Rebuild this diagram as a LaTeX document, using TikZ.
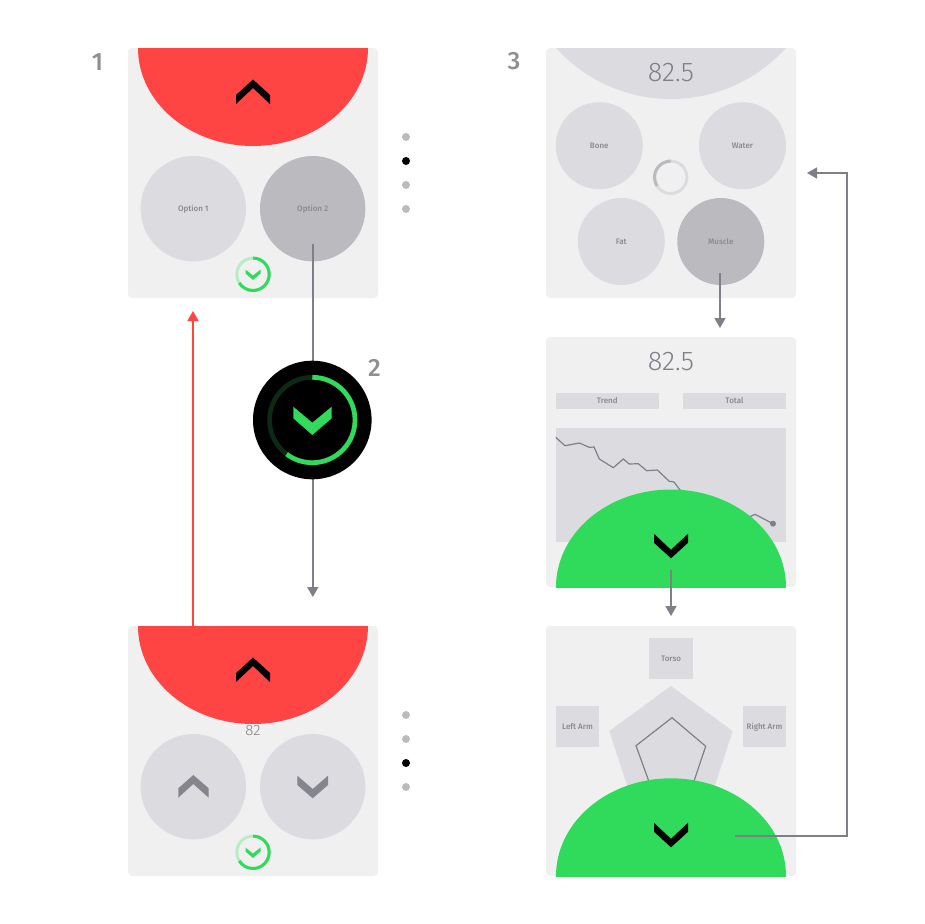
\documentclass[tikz,border=0pt]{standalone}
\usepackage{fontspec}
\setmainfont{Fira Sans}
\newfontfamily\digitfont{Fira Sans Light}
\newfontfamily\medfont{Fira Sans Medium}
\usetikzlibrary{arrows.meta}
\definecolor{panel}{HTML}{F0F0F1}
\definecolor{lite}{HTML}{DCDCE0}
\definecolor{dark}{HTML}{BBBBBF}
\definecolor{txt}{HTML}{8E8E93}
\definecolor{smalltxt}{HTML}{88888E}
\definecolor{conn}{HTML}{7F7F87}
\definecolor{red}{HTML}{FF4444}
\definecolor{grn}{HTML}{30DB5B}
\definecolor{palegrn}{HTML}{B8ECC5}
\definecolor{dimgrn}{HTML}{0E2A14}
\tikzset{
  smalltext/.style={text=smalltxt,font=\medfont\fontsize{8}{9}\selectfont,text height=5.4pt,text depth=0pt},
  panelbox/.style={rectangle,fill=panel,rounded corners=4pt,minimum size=250pt,inner sep=0pt},
  bigdisc/.style={circle,fill=lite,minimum size=105.4pt,inner sep=0pt,smalltext},
  meddisc/.style={circle,fill=lite,minimum size=87pt,inner sep=0pt,smalltext},
  selected/.style={fill=dark},
  dotmark/.style={circle,fill=dark,minimum size=8pt,inner sep=0pt},
  activedot/.style={dotmark,fill=black},
  numlab/.style={text=txt,font=\medfont\fontsize{25}{26}\selectfont,inner sep=0pt},
  digits/.style={text=conn,font=\digitfont\fontsize{27}{28}\selectfont,inner sep=0pt},
  conline/.style={draw=conn,line width=1.5pt,-{Triangle[length=10pt,width=11pt]}},
  redline/.style={draw=red,line width=1.5pt,-{Triangle[length=10pt,width=11pt]}},
  tabbox/.style={rectangle,fill=lite,inner sep=0pt,smalltext},
}
% ring: cx cy radius width back main sweep(clockwise deg, negative = clockwise)
\newcommand{\statusring}[7]{%
  \draw[#5,line width=#4pt] (#1,#2) circle[radius=#3pt];
  \draw[#6,line width=#4pt] (#1,#2-#3) arc[start angle=90,delta angle=#7,radius=#3pt];}
\newcommand{\chevup}[3]{\fill[#3] (#1-17,#2+15.5) -- (#1,#2) -- (#1+17,#2+15.5) -- (#1+17,#2+24.5) -- (#1,#2+8.5) -- (#1-17,#2+24.5) -- cycle;}
\newcommand{\chevdown}[3]{\fill[#3] (#1-17,#2-15.5) -- (#1,#2) -- (#1+17,#2-15.5) -- (#1+17,#2-24.5) -- (#1,#2-8.5) -- (#1-17,#2-24.5) -- cycle;}
\newcommand{\minichev}[2]{\fill[grn] (#1-7.5,#2-10.5) -- (#1,#2-4.5) -- (#1+7.5,#2-10.5) -- (#1+7.5,#2-6.5) -- (#1,#2) -- (#1-7.5,#2-6.5) -- cycle;}
\begin{document}
\begin{tikzpicture}[x=1pt,y=-1pt]
\useasboundingbox (0,0) rectangle (924,924);
% ---------- panel 1
\node[panelbox] (p1) at (253,173) {};
\begin{scope}
\clip (128,48) rectangle (378,298);
\fill[red] (253,48) ellipse[x radius=115pt,y radius=98pt];
\end{scope}
\chevup{253}{79.5}{black}
\node[bigdisc] (opt1) at (193.3,208.7) {Option 1};
\node[bigdisc,selected] (opt2) at (312.7,208.7) {Option 2};
\statusring{253}{274.3}{16.2}{3}{palegrn}{grn}{-238}
\minichev{253}{280}
\node[numlab] (n1) at (97.5,62) {1};
\node[dotmark] (d11) at (406,137) {};
\node[activedot] (d12) at (406,161) {};
\node[dotmark] (d13) at (406,185) {};
\node[dotmark] (d14) at (406,209) {};
% ---------- panel 2
\node[panelbox] (p2) at (253,751) {};
\begin{scope}
\clip (128,626) rectangle (378,876);
\fill[red] (253,626) ellipse[x radius=115pt,y radius=98pt];
\end{scope}
\chevup{253}{657.5}{black}
\node[text=conn,font=\digitfont\fontsize{15}{16}\selectfont,inner sep=0pt] (val2) at (253,731) {82};
\node[bigdisc] (plus) at (193.3,786.7) {};
\node[bigdisc] (minus) at (312.7,786.7) {};
\fill[conn!95] (178.3,788.3) -- (193.3,775) -- (208.7,788.3) -- (208.7,797.7) -- (193.3,784) -- (178.3,797.7) -- cycle;
\fill[conn!95] (297.3,775.7) -- (312.7,789) -- (328,775.7) -- (328,785) -- (312.7,798.3) -- (297.3,785) -- cycle;
\statusring{253}{852.3}{16.2}{3}{palegrn}{grn}{-238}
\minichev{253}{858}
\node[dotmark] (d21) at (406,715) {};
\node[dotmark] (d22) at (406,739) {};
\node[activedot] (d23) at (406,763) {};
\node[dotmark] (d24) at (406,787) {};
% ---------- connectors, left column
\coordinate (c1s) at (312.8,244);
\coordinate (c1e) at (312.8,597);
\draw[conline] (c1s) -- (c1e);
\coordinate (c2s) at (193,626);
\coordinate (c2e) at (193,311);
\draw[redline] (c2s) -- (c2e);
% ---------- watch
\node[circle,fill=black,minimum size=118.6pt,inner sep=0pt] (watch) at (312.3,420) {};
\statusring{312.3}{420}{42.7}{4.7}{dimgrn}{grn}{-217}
\fill[grn] (293.3,406.7) -- (312.3,422.7) -- (331.7,406.7) -- (331.7,418.3) -- (312.3,435) -- (293.3,418.3) -- cycle;
\node[numlab] (n2) at (374.5,367.5) {2};
% ---------- panel 3
\node[panelbox] (p3) at (671,173) {};
\begin{scope}
\clip (546,48) rectangle (796,298);
\fill[lite] (671,-56) circle[radius=155pt];
\end{scope}
\node[digits] (val3) at (671,73) {82.5};
\node[meddisc] (bone) at (599.3,145.7) {Bone};
\node[meddisc] (water) at (742.5,145.7) {Water};
\node[meddisc] (fat) at (621.3,241.5) {Fat};
\node[meddisc,selected] (muscle) at (720.8,241.5) {Muscle};
\statusring{670.7}{177.3}{16.2}{3}{lite}{dark}{123}
\node[numlab] (n3) at (514,61.5) {3};
% ---------- panel 4
\node[panelbox] (p4) at (671,462) {};
\node[digits] (val4) at (671,362) {82.5};
\node[tabbox,minimum width=103.3pt,minimum height=16.3pt] (trend) at (607.3,401.2) {Trend};
\node[tabbox,minimum width=103.3pt,minimum height=16.3pt] (total) at (734.5,401.2) {Total};
\fill[lite] (555.7,428.3) rectangle (786,542.3);
\draw[conn,line width=1.2pt] (555.7,437.3) -- (565,445.7) -- (579.3,443) -- (589.3,447.3) -- (594,447) -- (599.3,459) -- (613.3,467.7) -- (623.3,459) -- (629.3,464) -- (638.3,463.7) -- (646.7,470.7) -- (657.3,470) -- (669.3,481.3) -- (674,482) -- (680,490) -- (700,500) -- (750,516.7) -- (755,514.3) -- (773,523.7);
\fill[conn] (773,523.7) circle[radius=3pt];
\begin{scope}
\clip (546,337) rectangle (796,587);
\fill[grn] (671,587) ellipse[x radius=115pt,y radius=97.5pt];
\end{scope}
\chevdown{671}{558.3}{black}
% ---------- panel 5
\node[panelbox] (p5) at (671,751) {};
\node[tabbox,minimum width=44pt,minimum height=41.3pt] (torso) at (671,658.3) {Torso};
\node[tabbox,minimum width=43.6pt,minimum height=40.7pt] (larm) at (577.5,726.6) {Left Arm};
\node[tabbox,minimum width=43.6pt,minimum height=40.7pt] (rarm) at (764.5,726.6) {Right Arm};
\fill[lite] (671,686) -- (732.7,731) -- (709,803.6) -- (633,803.6) -- (609.3,731) -- cycle;
\draw[conn,line width=1.2pt] (672,717.7) -- (705.7,746.3) -- (691,790) -- (652,790) -- (636,745.7) -- cycle;
\begin{scope}
\clip (546,626) rectangle (796,876);
\fill[grn] (671,876) ellipse[x radius=115pt,y radius=97.7pt];
\end{scope}
\chevdown{671}{847.3}{black}
% ---------- connectors, right column
\coordinate (c3s) at (720,273);
\coordinate (c3e) at (720,328);
\draw[conline] (c3s) -- (c3e);
\coordinate (c4s) at (671,570);
\coordinate (c4e) at (671,616);
\draw[conline] (c4s) -- (c4e);
\coordinate (c5s) at (735,836);
\coordinate (c5m) at (847,836);
\coordinate (c5n) at (847,173);
\coordinate (c5e) at (807,173);
\draw[conline] (c5s) -- (c5m) -- (c5n) -- (c5e);
\end{tikzpicture}
\end{document}
